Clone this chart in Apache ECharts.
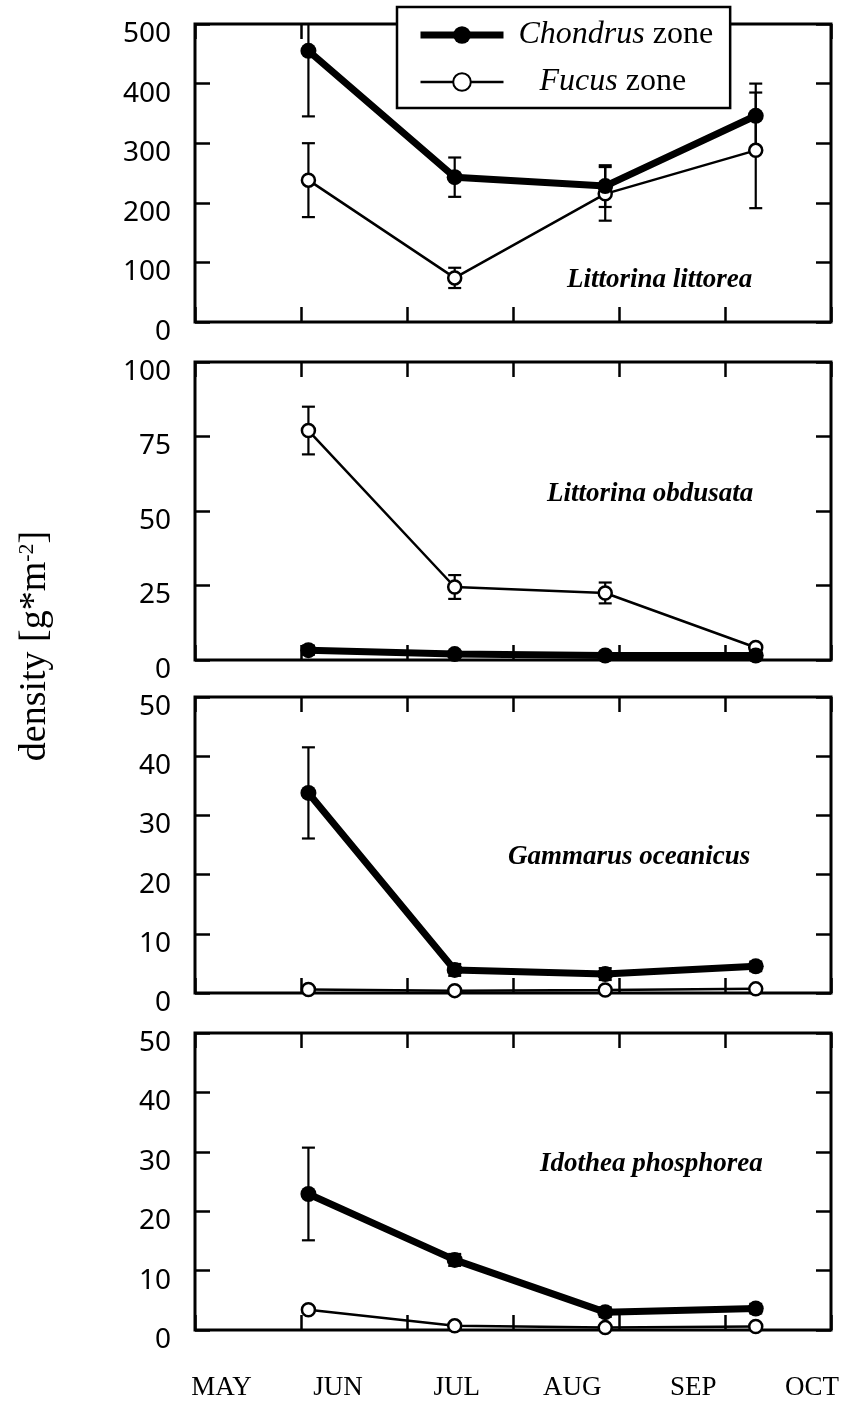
<!DOCTYPE html>
<html>
<head>
<meta charset="utf-8">
<title>density</title>
<script src="https://cdn.jsdelivr.net/npm/echarts@6/dist/echarts.min.js"></script>
<style>
  html, body { margin: 0; padding: 0; background: #fff; }
  #chart { width: 845px; height: 1404px; }
</style>
</head>
<body>
<div id="chart"></div>
<script>
// sampling dates, in months after 1 May
const sampleX = [1.07, 2.45, 3.87, 5.29];

// month labels under the bottom panel
const monthNames = ['MAY', 'JUN', 'JUL', 'AUG', 'SEP', 'OCT'];
const monthLabelX = [0.25, 1.35, 2.47, 3.56, 4.7, 5.82];

// panels, top to bottom
const speciesNames = ['Littorina littorea', 'Littorina obdusata', 'Gammarus oceanicus', 'Idothea phosphorea'];
const yMax = [500, 100, 50, 50];
const yStep = [100, 25, 10, 10];

// Littorina littorea
const littoreaChondrus = [455, 243, 228, 346];
const littoreaChondrusErr = [110, 33, 35, 54];
const littoreaFucus = [238, 74, 215, 288];
const littoreaFucusErr = [62, 17, 45, 97];

// Littorina obdusata
const obdusataChondrus = [3.3, 2, 1.5, 1.5];
const obdusataChondrusErr = [1.5, 0.5, 0.5, 0.5];
const obdusataFucus = [77, 24.5, 22.5, 4.2];
const obdusataFucusErr = [8, 4, 3.5, 1];

// Gammarus oceanicus
const gammarusChondrus = [33.8, 3.9, 3.2, 4.5];
const gammarusChondrusErr = [7.7, 1, 1, 0.8];
const gammarusFucus = [0.6, 0.4, 0.5, 0.7];
const gammarusFucusErr = [0, 0, 0, 0];

// Idothea phosphorea
const idotheaChondrus = [22.9, 11.8, 3.0, 3.6];
const idotheaChondrusErr = [7.8, 1, 0.8, 0.8];
const idotheaFucus = [3.4, 0.7, 0.4, 0.6];
const idotheaFucusErr = [0.5, 0, 0, 0];

const chondrusData = [littoreaChondrus, obdusataChondrus, gammarusChondrus, idotheaChondrus];
const chondrusErrData = [littoreaChondrusErr, obdusataChondrusErr, gammarusChondrusErr, idotheaChondrusErr];
const fucusData = [littoreaFucus, obdusataFucus, gammarusFucus, idotheaFucus];
const fucusErrData = [littoreaFucusErr, obdusataFucusErr, gammarusFucusErr, idotheaFucusErr];

// layout
const gridLeft = 195, gridWidth = 636;
const gridTops = [24, 362, 697, 1033];
const gridHeights = [298, 298, 296, 297];
const speciesPos = [[567, 283], [547, 497], [508, 860], [540, 1167]];

const SERIF = '"Liberation Serif", "DejaVu Serif", serif';
const SANS = '"Noto Sans", "DejaVu Sans", sans-serif';

function renderErrBar(params, api) {
  const x = api.value(0), lo = api.value(1), hi = api.value(2);
  const cs = params.coordSys;
  const pLo = api.coord([x, lo]);
  const pHi = api.coord([x, hi]);
  const top = Math.max(pHi[1], cs.y);
  const bot = Math.min(pLo[1], cs.y + cs.height);
  const cx = pLo[0];
  const w = 6.5;
  const style = { stroke: '#000', lineWidth: 2.2, fill: null };
  const children = [{ type: 'line', shape: { x1: cx, y1: top, x2: cx, y2: bot }, style }];
  if (pHi[1] >= cs.y) children.push({ type: 'line', shape: { x1: cx - w, y1: top, x2: cx + w, y2: top }, style });
  if (pLo[1] <= cs.y + cs.height) children.push({ type: 'line', shape: { x1: cx - w, y1: bot, x2: cx + w, y2: bot }, style });
  return { type: 'group', children };
}

const grid = [], xAxis = [], yAxis = [], series = [], graphic = [];
const tickStyle = { show: true, inside: true, length: 15, lineStyle: { color: '#000', width: 2.5 } };
const noLine = { show: false, onZero: false };

for (let i = 0; i < 4; i++) {
  grid.push({
    left: gridLeft, top: gridTops[i], width: gridWidth, height: gridHeights[i],
    show: true, borderColor: '#000', borderWidth: 3, backgroundColor: 'transparent'
  });

  const xBase = {
    gridIndex: i, type: 'value', min: 0, max: 6, interval: 1,
    axisLine: noLine, splitLine: { show: false },
    axisLabel: { show: false }, axisTick: tickStyle
  };
  xAxis.push(Object.assign({}, xBase, { position: 'bottom' }));
  xAxis.push(Object.assign({}, xBase, { position: 'top' }));

  const yBase = {
    gridIndex: i, type: 'value', min: 0, max: yMax[i], interval: yStep[i],
    axisLine: noLine, splitLine: { show: false }, axisTick: tickStyle
  };
  yAxis.push(Object.assign({}, yBase, {
    position: 'left',
    axisLabel: {
      show: true, margin: 24, color: '#000', fontFamily: SANS, fontSize: 28,
      verticalAlign: 'top', lineHeight: 20
    }
  }));
  yAxis.push(Object.assign({}, yBase, { position: 'right', axisLabel: { show: false } }));

  const xi = i * 2, yi = i * 2;

  // error bars
  [[chondrusData[i], chondrusErrData[i]], [fucusData[i], fucusErrData[i]]].forEach((pair, k) => {
    series.push({
      type: 'custom', name: 'err' + i + '_' + k,
      xAxisIndex: xi, yAxisIndex: yi, z: 2, silent: true,
      renderItem: renderErrBar,
      data: sampleX.map((x, j) => [x, pair[0][j] - pair[1][j], pair[0][j] + pair[1][j]])
    });
  });

  series.push({
    type: 'line', name: 'Fucus zone',
    xAxisIndex: xi, yAxisIndex: yi, z: 3,
    data: sampleX.map((x, j) => [x, fucusData[i][j]]),
    symbol: 'circle', symbolSize: 13, showAllSymbol: true,
    lineStyle: { color: '#000', width: 2.5 },
    itemStyle: { color: '#fff', borderColor: '#000', borderWidth: 2.5 }
  });
  series.push({
    type: 'line', name: 'Chondrus zone',
    xAxisIndex: xi, yAxisIndex: yi, z: 4,
    data: sampleX.map((x, j) => [x, chondrusData[i][j]]),
    symbol: 'circle', symbolSize: 16, showAllSymbol: true,
    lineStyle: { color: '#000', width: 7 },
    itemStyle: { color: '#000', borderColor: '#000', borderWidth: 0 }
  });

  graphic.push({
    type: 'text', left: speciesPos[i][0], top: speciesPos[i][1] - 16, z: 10,
    style: {
      text: speciesNames[i], fill: '#000', fontFamily: SERIF,
      fontStyle: 'italic', fontWeight: 'bold', fontSize: 27
    }
  });
}

// month labels on the lowest panel
xAxis.push({
  gridIndex: 3, type: 'value', min: 0, max: 6, position: 'bottom',
  axisLine: noLine, splitLine: { show: false }, axisTick: { show: false },
  axisLabel: {
    show: true, margin: 44, color: '#000', fontFamily: SERIF, fontSize: 27,
    customValues: monthLabelX,
    formatter: v => monthNames[monthLabelX.indexOf(v)] || ''
  }
});

// y axis title, reading bottom to top
graphic.push({
  type: 'text', x: 35, y: 646, rotation: Math.PI / 2, z: 10,
  style: {
    text: 'density [g*m{sup|-2}]', fill: '#000', fontFamily: SERIF, fontSize: 38,
    align: 'center', verticalAlign: 'middle',
    rich: { sup: { fontFamily: SERIF, fontSize: 22, verticalAlign: 'top', padding: [0, 0, 16, 0] } }
  }
});

const chart = echarts.init(document.getElementById('chart'));
chart.setOption({
  animation: false,
  backgroundColor: '#fff',
  grid, xAxis, yAxis, series, graphic,
  legend: {
    left: 397, top: 7, orient: 'vertical',
    data: [
      { name: 'Chondrus zone', textStyle: { padding: [0, 0, 0, 10] }, lineStyle: { width: 7, color: '#000' } },
      { name: 'Fucus zone', textStyle: { padding: [0, 0, 0, 31] }, lineStyle: { width: 2.5, color: '#000' } }
    ],
    backgroundColor: '#fff', borderColor: '#000', borderWidth: 2.5, borderRadius: 0,
    padding: [12, 17, 10, 20], itemGap: 15, itemWidth: 83, itemHeight: 22,
    selectedMode: false, z: 20,
    formatter: name => name === 'Chondrus zone' ? '{i|Chondrus} zone' : '{i|Fucus} zone',
    textStyle: {
      color: '#000', fontFamily: SERIF, fontSize: 32, lineHeight: 32,
      rich: { i: { fontFamily: SERIF, fontSize: 32, fontStyle: 'italic', color: '#000' } }
    }
  }
});
</script>
</body>
</html>
